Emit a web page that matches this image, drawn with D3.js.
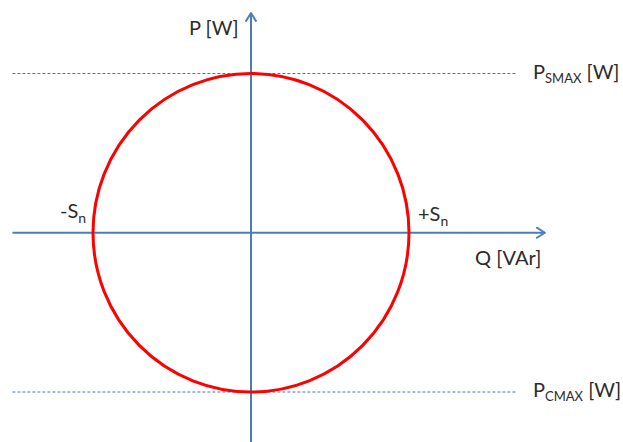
<!DOCTYPE html>
<html>
<head>
<meta charset="utf-8">
<script src="https://cdn.jsdelivr.net/npm/d3@7"></script>
<style>
  body { margin: 0; background: #fff; }
  text { font-family: Lato, "Open Sans", sans-serif; fill: #2b2b2b; }
</style>
</head>
<body>
<svg id="chart"></svg>
<script>
// values in per-unit of Sn
var Sn = 1
var limits = [
    {name: "SMAX", p: 1},
    {name: "CMAX", p: -1}
]
var qRange = [-1.51, 1.86]
var pRange = [-1.32, 1.38]
var dashEnd = 1.68

var width = 623, height = 442
var svg = d3.select("#chart")
    .attr("width", width)
    .attr("height", height)

var x = d3.scaleLinear().domain([-1, 1]).range([93, 409])
var y = d3.scaleLinear().domain([-1, 1]).range([392, 73.5])

var blue = "#4a7ebb"

svg.append("defs").append("marker")
    .attr("id", "arrow")
    .attr("viewBox", "0 0 12 12")
    .attr("refX", 10).attr("refY", 6)
    .attr("markerWidth", 12).attr("markerHeight", 12)
    .attr("markerUnits", "userSpaceOnUse")
    .attr("orient", "auto")
    .append("path")
        .attr("d", "M2,1 L10,6 L2,11")
        .attr("fill", "none")
        .attr("stroke", blue)
        .attr("stroke-width", 2)
        .attr("stroke-linecap", "round")
        .attr("stroke-linejoin", "round")

// dashed limit lines
svg.selectAll("line.limit")
    .data(limits)
    .enter()
    .append("line")
        .attr("class", "limit")
        .attr("x1", x(qRange[0]))
        .attr("x2", x(dashEnd))
        .attr("y1", d => y(d.p))
        .attr("y2", d => y(d.p))
        .attr("stroke", "#3f76c0")
        .attr("stroke-width", 1)
        .attr("stroke-dasharray", "3,2")

// axes
svg.append("line")
    .attr("x1", x(qRange[0])).attr("x2", x(qRange[1]))
    .attr("y1", y(0)).attr("y2", y(0))
    .attr("stroke", blue).attr("stroke-width", 2)
    .attr("marker-end", "url(#arrow)")

svg.append("line")
    .attr("x1", x(0)).attr("x2", x(0))
    .attr("y1", y(pRange[0])).attr("y2", y(pRange[1]))
    .attr("stroke", blue).attr("stroke-width", 2)
    .attr("marker-end", "url(#arrow)")

// capability circle
svg.append("ellipse")
    .attr("cx", x(0))
    .attr("cy", y(0))
    .attr("rx", x(Sn) - x(0))
    .attr("ry", y(0) - y(Sn))
    .attr("fill", "none")
    .attr("stroke", "#ff0000")
    .attr("stroke-width", 3)

// labels
svg.append("text")
    .attr("x", 189).attr("y", 35)
    .style("font-size", "20px")
    .text("P [W]")

svg.append("text")
    .attr("x", 475).attr("y", 265)
    .style("font-size", "20px")
    .text("Q [VAr]")

var sn = [{sign: "-", q: -Sn, dx: -33, dy: -15}, {sign: "+", q: Sn, dx: 9, dy: -12}]
sn.forEach(function (d) {
    var t = svg.append("text")
        .attr("x", x(d.q) + d.dx).attr("y", y(0) + d.dy)
        .style("font-size", "20px")
    t.append("tspan").text(d.sign + "S")
    t.append("tspan").attr("dy", 5).style("font-size", "14px").text("n")
})

limits.forEach(function (d) {
    var t = svg.append("text")
        .attr("x", 533).attr("y", y(d.p) + 5)
        .style("font-size", "20px")
    t.append("tspan").text("P")
    t.append("tspan").attr("dy", 4).style("font-size", "13px").text(d.name)
    t.append("tspan").attr("dy", -4).text(" [W]")
})
</script>
</body>
</html>
